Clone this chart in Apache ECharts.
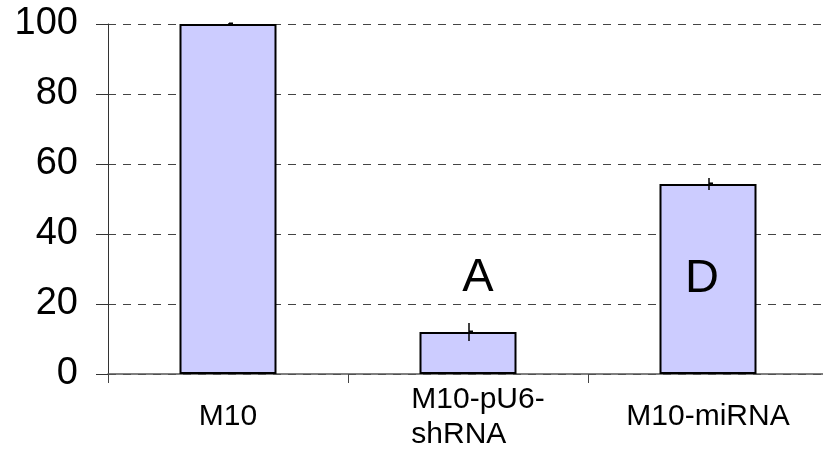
<!DOCTYPE html>
<html>
<head>
<meta charset="utf-8">
<script src="https://cdn.jsdelivr.net/npm/echarts@6/dist/echarts.min.js"></script>
<style>
  html, body { margin: 0; padding: 0; background: #fff; }
  #main { width: 823px; height: 455px; }
</style>
</head>
<body>
<div id="main"></div>
<script>
// 数据
const categories = ['M10', 'M10-pU6-\nshRNA', 'M10-miRNA'];
const values = [100, 12, 54.3];
const errors = [0.3, 2.6, 1.7];
const letters = ['', 'A', 'D'];
const yMin = 0;
const yMax = 100;
const yStep = 20;

const FONT = '"Liberation Sans", Arial, sans-serif';

var myChart = echarts.init(document.getElementById('main'));

// 柱子上的字母
const barData = values.map((v, i) => {
    const item = { value: v };
    if (letters[i] === 'A') {
        item.label = { show: true, position: 'top', distance: 30, offset: [10, 0], formatter: letters[i] };
    } else if (letters[i] === 'D') {
        item.label = { show: true, position: 'inside', offset: [-6, 0], formatter: letters[i] };
    }
    return item;
});

const errData = values.map((v, i) => [i, v, errors[i]]);

const option = {
    animation: false,
    backgroundColor: '#fff',
    grid: {
        left: 108,
        top: 24,
        width: 720,
        bottom: 81,
        containLabel: false,
        outerBoundsMode: 'none'
    },
    xAxis: {
        type: 'category',
        data: categories,
        boundaryGap: true,
        axisLine: { show: true, lineStyle: { color: '#555', width: 1.5 } },
        axisTick: { show: true, alignWithLabel: false, length: 9, lineStyle: { color: '#444', width: 1 } },
        axisLabel: {
            interval: 0,
            margin: 43,
            verticalAlign: 'middle',
            fontSize: 30,
            lineHeight: 35,
            fontFamily: FONT,
            color: '#000',
            formatter: function (value) {
                if (value.indexOf('\n') < 0) return value;
                // 两行标签左对齐
                return value.split('\n').map(s => '{l|' + s + '}').join('\n');
            },
            rich: {
                l: { align: 'left', verticalAlign: 'middle', padding: [0, 0, 0, 20], fontSize: 30, lineHeight: 35, fontFamily: FONT, color: '#000' }
            }
        },
        splitLine: { show: false }
    },
    yAxis: {
        type: 'value',
        min: yMin,
        max: yMax,
        interval: yStep,
        axisLine: { show: true, lineStyle: { color: '#333', width: 1 } },
        axisTick: { show: true, inside: false, length: 12, lineStyle: { color: '#333', width: 1 } },
        axisLabel: {
            margin: 30,
            fontSize: 38,
            fontFamily: FONT,
            color: '#000'
        },
        splitLine: {
            show: true,
            lineStyle: { color: '#444', width: 1, type: [8, 7] }
        }
    },
    series: [
        {
            name: 'value',
            type: 'bar',
            data: barData,
            barWidth: 97,
            itemStyle: {
                color: '#ccccff',
                borderColor: '#000',
                borderWidth: 2
            },
            label: {
                show: false,
                fontSize: 47,
                fontFamily: FONT,
                color: '#000'
            },
            z: 2
        },
        {
            name: 'error',
            type: 'custom',
            data: errData,
            z: 3,
            renderItem: function (params, api) {
                const idx = api.value(0);
                const v = api.value(1);
                const e = api.value(2);
                const top = api.coord([idx, v + e]);
                const bottom = api.coord([idx, v - e]);
                const mid = api.coord([idx, v]);
                return {
                    type: 'group',
                    children: [
                        {
                            type: 'line',
                            shape: { x1: top[0] + 1, y1: top[1], x2: bottom[0] + 1, y2: bottom[1] },
                            style: { stroke: '#000', lineWidth: 1.5 }
                        },
                        {
                            type: 'line',
                            shape: { x1: mid[0] + 1, y1: mid[1] - 0.5, x2: mid[0] + 5, y2: mid[1] - 0.5 },
                            style: { stroke: '#000', lineWidth: 2 }
                        }
                    ]
                };
            }
        }
    ]
};

myChart.setOption(option);
</script>
</body>
</html>
